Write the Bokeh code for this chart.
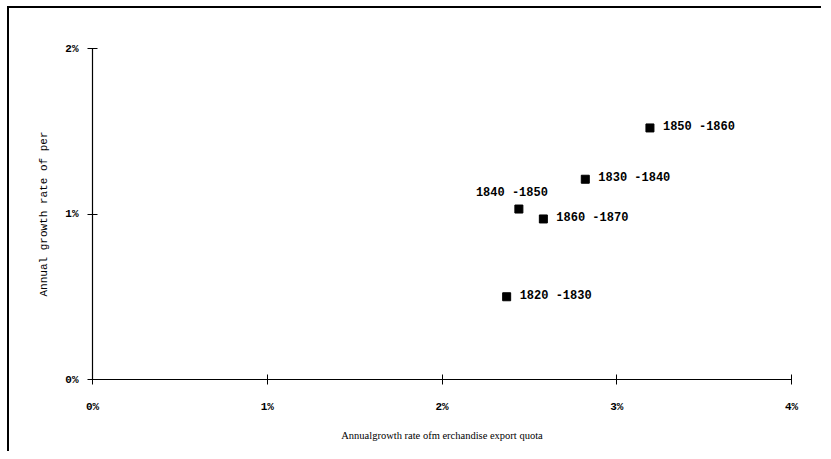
from bokeh.plotting import figure
from bokeh.layouts import column
from bokeh.models import ColumnDataSource, FixedTicker, Range1d
from bokeh.core.properties import value
from bokeh.embed import file_html
from bokeh.resources import INLINE

# ---- data ----
periods = ["1820 -1830", "1830 -1840", "1840 -1850", "1850 -1860", "1860 -1870"]
export_growth = [2.37, 2.82, 2.44, 3.19, 2.58]      # % per year, x
income_growth = [0.50, 1.21, 1.03, 1.52, 0.97]      # % per year, y
x_ticks = [0, 1, 2, 3, 4]
y_ticks = [0, 1, 2]
x_tick_labels = ["0%", "1%", "2%", "3%", "4%"]
y_tick_labels = ["0%", "1%", "2%"]
x_title = "Annualgrowth rate ofm erchandise export quota"
y_title = "Annual growth rate of per"

# label placement (style, not data): periods labelled above the marker
above_labels = ["1840 -1850"]

p = figure(width=812, height=443, output_backend="svg", toolbar_location=None,
           x_range=Range1d(0, 4), y_range=Range1d(0, 2),
           min_border_left=83, min_border_right=30,
           min_border_top=40, min_border_bottom=72)
p.outline_line_color = None
p.grid.visible = False
p.background_fill_color = "white"
p.border_fill_color = "white"

p.xaxis.ticker = FixedTicker(ticks=x_ticks)
p.yaxis.ticker = FixedTicker(ticks=y_ticks)
p.xaxis.major_label_overrides = {t: l for t, l in zip(x_ticks, x_tick_labels)}
p.yaxis.major_label_overrides = {t: l for t, l in zip(y_ticks, y_tick_labels)}
p.xaxis.axis_label = x_title
p.yaxis.axis_label = y_title

for ax in (p.xaxis[0], p.yaxis[0]):
    ax.axis_line_color = "black"
    ax.axis_line_width = 1.2
    ax.major_tick_line_color = "black"
    ax.major_tick_in = 5
    ax.major_tick_out = 5
    ax.minor_tick_line_color = None
    ax.major_label_text_font = "Liberation Mono"
    ax.major_label_text_font_style = "bold"
    ax.major_label_text_font_size = "11px"
    ax.major_label_text_color = "black"
    ax.axis_label_text_color = "black"
    ax.axis_label_text_font_style = "normal"

p.xaxis.major_label_standoff = 16
p.xaxis.axis_label_standoff = 14
p.xaxis.axis_label_text_font = "Liberation Serif"
p.xaxis.axis_label_text_font_size = "10.5px"
p.yaxis.major_label_standoff = 9
p.yaxis.axis_label_standoff = 12
p.yaxis.axis_label_text_font = "Liberation Mono"
p.yaxis.axis_label_text_font_size = "11px"

src = ColumnDataSource(dict(x=export_growth, y=income_growth, label=periods))
p.scatter("x", "y", source=src, marker="square", size=8,
          fill_color="black", line_color="black")

right_idx = [i for i, l in enumerate(periods) if l not in above_labels]
up_idx = [i for i, l in enumerate(periods) if l in above_labels]

src_r = ColumnDataSource(dict(x=[export_growth[i] for i in right_idx],
                              y=[income_growth[i] for i in right_idx],
                              label=[periods[i] for i in right_idx]))
src_u = ColumnDataSource(dict(x=[export_growth[i] for i in up_idx],
                              y=[income_growth[i] for i in up_idx],
                              label=[periods[i] for i in up_idx]))

common = dict(text="label", text_font=value("Liberation Mono"), text_font_size="12px",
              text_font_style="bold", text_color="black", text_baseline="middle")
p.text("x", "y", source=src_r, x_offset=13, y_offset=-1, text_align="left", **common)
p.text("x", "y", source=src_u, x_offset=-7, y_offset=-16, text_align="center", **common)

layout = column(p, margin=(6, 0, 0, 7),
                styles={"border-top": "2px solid black", "border-left": "2px solid black"})

open("out.html", "w").write(file_html(layout, INLINE))
